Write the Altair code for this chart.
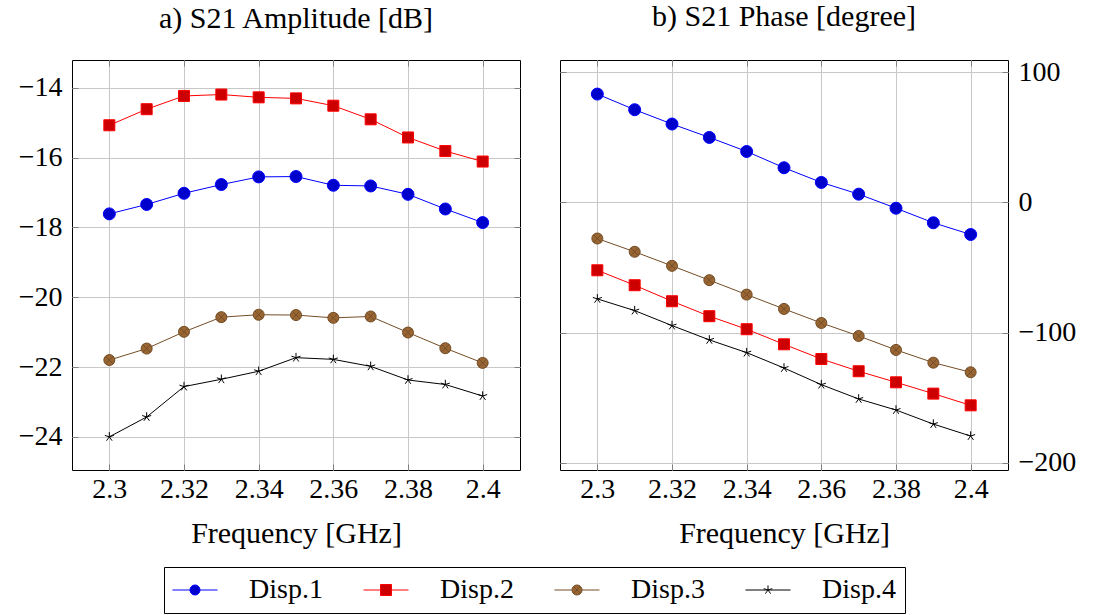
import altair as alt
import pandas as pd

freq = [2.30, 2.31, 2.32, 2.33, 2.34, 2.35, 2.36, 2.37, 2.38, 2.39, 2.40]
series_names = ["Disp.1", "Disp.2", "Disp.3", "Disp.4"]

amp_d1 = [-17.61, -17.34, -17.02, -16.77, -16.55, -16.54, -16.79, -16.81, -17.05, -17.47, -17.86]
amp_d2 = [-15.07, -14.61, -14.23, -14.19, -14.27, -14.30, -14.51, -14.90, -15.42, -15.81, -16.11]
amp_d3 = [-21.80, -21.47, -20.99, -20.57, -20.50, -20.51, -20.59, -20.55, -21.01, -21.46, -21.88]
amp_d4 = [-24.00, -23.43, -22.56, -22.35, -22.12, -21.73, -21.78, -21.98, -22.37, -22.50, -22.83]

ph_d1 = [83.3, 71.3, 60.3, 50.0, 39.2, 26.7, 15.4, 6.4, -4.4, -15.6, -24.6]
ph_d2 = [-52.1, -63.6, -75.9, -87.4, -97.4, -109.0, -120.3, -129.7, -138.2, -146.9, -155.9]
ph_d3 = [-27.7, -37.9, -48.7, -59.7, -70.8, -81.8, -92.6, -102.6, -113.3, -123.1, -130.5]
ph_d4 = [-74.1, -83.1, -94.6, -105.6, -115.4, -127.2, -140.0, -151.0, -159.5, -170.3, -179.5]

x_ticks = [2.30, 2.32, 2.34, 2.36, 2.38, 2.40]
amp_ticks = [-24, -22, -20, -18, -16, -14]
ph_ticks = [-200, -100, 0, 100]

line_colors = ["#0000ff", "#ff0000", "#734d26", "#000000"]
fill_colors = ["#0000cc", "#cc0000", "#996633", "#000000"]

FONT = "Liberation Serif"
FS = 28
TFS = 30

# marker shapes (pgfplots style)
STAR = "M0,-1L0,0M0.951,-0.309L0,0M0.588,0.809L0,0M-0.588,0.809L0,0M-0.951,-0.309L0,0"
OTIMES = ("M1,0A1,1,0,1,1,-1,0A1,1,0,1,1,1,0Z"
          "M-0.7071,-0.7071L0.7071,0.7071M-0.7071,0.7071L0.7071,-0.7071")
marker_shapes = ["circle", "square", OTIMES, STAR]
marker_sizes = [144, 121, 121, 90]

# legend symbols: short line segment with a marker in the middle
LEG_CIRCLE = ("M-1.731,0H-0.385M0.385,0H1.731"
              "M0.385,0A0.385,0.385,0,1,1,-0.385,0A0.385,0.385,0,1,1,0.385,0Z")
LEG_SQUARE = "M-1.731,0H-0.423M0.423,0H1.731M-0.423,-0.423H0.423V0.423H-0.423Z"
LEG_OTIMES = ("M-1.731,0H-0.385M0.385,0H1.731"
              "M0.385,0A0.385,0.385,0,1,1,-0.385,0A0.385,0.385,0,1,1,0.385,0Z"
              "M-0.272,-0.272L0.272,0.272M-0.272,0.272L0.272,-0.272")
LEG_STAR = ("M-1.731,0H1.731M0,-0.346L0,0M0.329,-0.107L0,0M0.203,0.280L0,0"
            "M-0.203,0.280L0,0M-0.329,-0.107L0,0")
legend_shapes = [LEG_CIRCLE, LEG_SQUARE, LEG_OTIMES, LEG_STAR]


def long_df(cols):
    rows = []
    for name, vals in zip(series_names, cols):
        for f, v in zip(freq, vals):
            rows.append({"freq": f, "val": v, "series": name})
    return pd.DataFrame(rows)


amp_df = long_df([amp_d1, amp_d2, amp_d3, amp_d4])
ph_df = long_df([ph_d1, ph_d2, ph_d3, ph_d4])

legend = alt.Legend(
    title=None, orient="none", direction="horizontal", columns=4,
    legendX=92, legendY=507,
    labelFont=FONT, labelFontSize=FS, labelColor="black",
    symbolSize=676, symbolStrokeWidth=1, symbolOffset=8,
    labelOffset=40, columnPadding=38, padding=9,
    strokeColor="black", fillColor="white", cornerRadius=0,
)

stroke_scale = alt.Scale(domain=series_names, range=line_colors)
fill_scale = alt.Scale(domain=series_names, range=fill_colors)
shape_scale = alt.Scale(domain=series_names, range=legend_shapes)


def panel(df, ydomain, yticks, yorient, title):
    mirror = "right" if yorient == "left" else "left"
    xs = alt.Scale(domain=[2.29, 2.41], nice=False, zero=False)
    ys = alt.Scale(domain=ydomain, nice=False, zero=False)
    x_main = alt.X("freq:Q", scale=xs,
                   axis=alt.Axis(values=x_ticks, format=".2~f", title="Frequency [GHz]",
                                 orient="bottom", offset=-6, tickSize=6, labelPadding=5,
                                 titlePadding=15, titleFontSize=TFS, grid=True))
    y_main = alt.Y("val:Q", scale=ys,
                   axis=alt.Axis(values=yticks, title=None, orient=yorient, offset=-6,
                                 tickSize=6, labelPadding=10, grid=True))
    base = alt.Chart(df)
    lines = base.mark_line(strokeWidth=1).encode(
        x=x_main, y=y_main,
        stroke=alt.Stroke("series:N", scale=stroke_scale, legend=legend),
        detail="series:N",
    )
    layers = [lines]
    for name, shp, sz in zip(series_names, marker_shapes, marker_sizes):
        layers.append(
            base.transform_filter(alt.datum.series == name)
            .mark_point(filled=True, opacity=1, strokeWidth=1, shape=shp, size=sz)
            .encode(
                x=alt.X("freq:Q", axis=None),
                y=alt.Y("val:Q", axis=None),
                fill=alt.Fill("series:N", scale=fill_scale, legend=legend),
                stroke=alt.Stroke("series:N", scale=stroke_scale, legend=legend),
            )
        )
    leg = base.transform_filter("false").mark_point(filled=True, opacity=1, strokeWidth=1).encode(
        x=alt.X("freq:Q", axis=alt.Axis(values=x_ticks, orient="top", labels=False, title=None,
                                        offset=-6, tickSize=6, grid=False)),
        y=alt.Y("val:Q", axis=alt.Axis(values=yticks, orient=mirror, labels=False, title=None,
                                       offset=-6, tickSize=6, grid=False)),
        fill=alt.Fill("series:N", scale=fill_scale, legend=legend),
        stroke=alt.Stroke("series:N", scale=stroke_scale, legend=legend),
        shape=alt.Shape("series:N", scale=shape_scale, legend=legend),
    )
    layers.append(leg)
    return alt.layer(*layers).resolve_axis(x="independent", y="independent").properties(
        width=448, height=410,
        title=alt.TitleParams(title, baseline="alphabetic", offset=2, fontSize=TFS),
    )


left = panel(amp_df, [-24.95, -13.2], amp_ticks, "left", "a) S21 Amplitude [dB]")
right = panel(ph_df, [-205.6, 109.5], ph_ticks, "right", "b) S21 Phase [degree]")

chart = alt.hconcat(left, right, spacing=38).properties(
    padding={"left": 17, "top": 1, "right": 5, "bottom": 5}
).configure(
    font=FONT,
).configure_view(
    stroke="black", strokeWidth=1,
).configure_axis(
    labelFont=FONT, labelFontSize=FS, labelColor="black",
    titleFont=FONT, titleFontSize=FS, titleFontWeight="normal", titleColor="black",
    gridColor="#c8c8c8", gridWidth=1, tickColor="#808080", tickWidth=1, domain=False,
).configure_title(
    font=FONT, fontSize=TFS, fontWeight="normal", color="black", anchor="middle",
)

chart.save("out.html", embed_options={"renderer": "svg", "actions": False})
